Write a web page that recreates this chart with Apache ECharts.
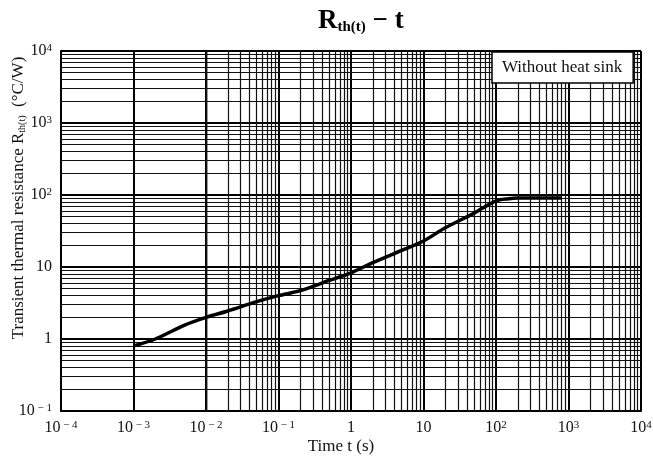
<!DOCTYPE html>
<html>
<head>
<meta charset="utf-8">
<script src="https://cdn.jsdelivr.net/npm/echarts@6/dist/echarts.min.js"></script>
<style>html,body{margin:0;padding:0;background:#fff;}#c{width:653px;height:458px;}</style>
</head>
<body>
<div id="c"></div>
<script>
// Time t (s)
var times = [1e-3, 2e-3, 5e-3, 1e-2, 2e-2, 5e-2, 0.1, 0.2, 0.5, 1, 2, 5, 10, 20, 50, 100, 150, 200, 500, 800];
// Transient thermal resistance (°C/W)
var resist = [0.8, 1.0, 1.55, 2.0, 2.45, 3.3, 4.0, 4.7, 6.5, 8.3, 11.5, 17, 23, 35, 56, 83, 89, 91, 91, 91];
var seriesName = 'Without heat sink';
var xDecades = [-4, -3, -2, -1, 0, 1, 2, 3, 4];
var yDecades = [-1, 0, 1, 2, 3, 4];

var FONT = 'Liberation Serif';

function expLabel(v) {
  var e = Math.round(Math.log10(v));
  if (e === 0) return '1';
  if (e === 1) return '10';
  return '10{sup|' + (e < 0 ? ' \u2212 ' + (-e) : e) + '}';
}

// minor grid values at 2..9 within each decade
var xMinor = [], yMinor = [];
for (var i = 0; i < xDecades.length - 1; i++)
  for (var m = 2; m <= 9; m++) xMinor.push({xAxis: m * Math.pow(10, xDecades[i])});
for (var j = 0; j < yDecades.length - 1; j++)
  for (var n = 2; n <= 9; n++) yMinor.push({yAxis: n * Math.pow(10, yDecades[j])});

var data = times.map(function (t, k) { return [t, resist[k]]; });

var labelRich = {
  sup: {fontSize: 11, fontFamily: FONT, color: '#111', verticalAlign: 'top', lineHeight: 12}
};

var chart = echarts.init(document.getElementById('c'));
chart.setOption({
  backgroundColor: '#fff',
  animation: false,
  title: {
    text: '{b|R}{s|th(t)}{m| \u2212 }{b|t}',
    left: 313,
    top: 0,
    textStyle: {
      rich: {
        b: {fontSize: 27, fontWeight: 'bold', fontFamily: FONT, color: '#000', verticalAlign: 'bottom', lineHeight: 30},
        m: {fontSize: 27, fontWeight: 'bold', fontFamily: FONT, color: '#000', verticalAlign: 'bottom', lineHeight: 30},
        s: {fontSize: 15, fontWeight: 'bold', fontFamily: FONT, color: '#000', verticalAlign: 'bottom', lineHeight: 24}
      }
    }
  },
  legend: {
    data: [{name: seriesName, icon: 'none'}],
    left: 492,
    top: 52,
    z: 100,
    itemWidth: 0,
    itemHeight: 0,
    backgroundColor: '#fff',
    borderColor: '#000',
    borderWidth: 1.5,
    borderRadius: 0,
    padding: [7, 11, 7, 5],
    textStyle: {fontFamily: FONT, fontSize: 17, color: '#111'}
  },
  grid: {left: 61, right: 12, top: 51, bottom: 47, outerBoundsMode: 'none', containLabel: false},
  xAxis: {
    type: 'log',
    logBase: 10,
    min: 1e-4,
    max: 1e4,
    name: 'Time t (s)',
    nameLocation: 'middle',
    nameGap: 27,
    nameMoveOverlap: false,
    nameTextStyle: {fontFamily: FONT, fontSize: 17, color: '#111', padding: [0, 20, 0, 0]},
    axisLine: {lineStyle: {color: '#000', width: 2}},
    axisTick: {show: false},
    axisLabel: {
      formatter: expLabel,
      fontFamily: FONT, fontSize: 16, color: '#111', margin: 9,
      rich: labelRich
    },
    splitLine: {show: true, lineStyle: {color: '#000', width: 2}}
  },
  yAxis: {
    type: 'log',
    logBase: 10,
    min: 0.1,
    max: 1e4,
    name: '{n|Transient thermal resistance R}{s|th(t)}{n|  (\u00b0C/W)}',
    nameLocation: 'middle',
    nameGap: 34,
    nameMoveOverlap: false,
    nameTextStyle: {
      padding: [0, 0, 0, 66],
      rich: {
        n: {fontFamily: FONT, fontSize: 17, color: '#111', verticalAlign: 'bottom', lineHeight: 20},
        s: {fontFamily: FONT, fontSize: 10, color: '#111', verticalAlign: 'bottom', lineHeight: 15}
      }
    },
    axisLine: {show: true, lineStyle: {color: '#000', width: 2}},
    axisTick: {show: false},
    axisLabel: {
      formatter: expLabel,
      fontFamily: FONT, fontSize: 16, color: '#111', margin: 9,
      rich: labelRich
    },
    splitLine: {show: true, lineStyle: {color: '#000', width: 2}}
  },
  series: [
    {
      type: 'line',
      name: 'grid',
      data: [],
      silent: true,
      z: 1,
      markLine: {
        silent: true,
        symbol: ['none', 'none'],
        label: {show: false},
        animation: false,
        lineStyle: {color: '#111', width: 1.2, type: 'solid'},
        data: xMinor.concat(yMinor)
      }
    },
    {
      type: 'line',
      name: seriesName,
      data: data,
      z: 5,
      smooth: 0.3,
      showSymbol: false,
      lineStyle: {color: '#000', width: 3.5},
      itemStyle: {color: '#000'}
    }
  ]
});
</script>
</body>
</html>
